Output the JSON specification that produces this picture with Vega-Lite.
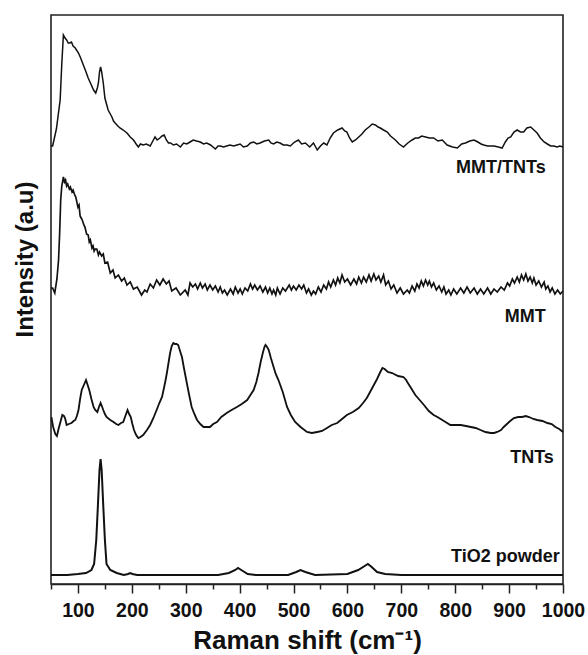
{
  "$schema": "https://vega.github.io/schema/vega-lite/v6.json",
  "width": 512,
  "height": 569,
  "autosize": "none",
  "padding": {"left": 51, "top": 15, "right": 25, "bottom": 71},
  "background": "white",
  "config": {"view": {"stroke": "#222", "strokeWidth": 1.6}, "font": "Liberation Sans", "axis": {"labelFontWeight": "bold", "labelFont": "Liberation Sans"}},
  "resolve": {"axis": {"x": "independent"}},
  "datasets": {
    "spectra": [
      {"series":"MMT/TNTs","x":50,"y":438},{"series":"MMT/TNTs","x":53,"y":438},{"series":"MMT/TNTs","x":60,"y":455},{"series":"MMT/TNTs","x":67,"y":484},{"series":"MMT/TNTs","x":70,"y":520},{"series":"MMT/TNTs","x":73,"y":549},{"series":"MMT/TNTs","x":76,"y":546},{"series":"MMT/TNTs","x":79,"y":544},{"series":"MMT/TNTs","x":82,"y":541},{"series":"MMT/TNTs","x":85,"y":541},{"series":"MMT/TNTs","x":88,"y":542},{"series":"MMT/TNTs","x":91,"y":538},{"series":"MMT/TNTs","x":95,"y":536},{"series":"MMT/TNTs","x":101,"y":531},{"series":"MMT/TNTs","x":105,"y":526},{"series":"MMT/TNTs","x":110,"y":519},{"series":"MMT/TNTs","x":115,"y":512},{"series":"MMT/TNTs","x":119,"y":506},{"series":"MMT/TNTs","x":124,"y":500},{"series":"MMT/TNTs","x":129,"y":494},{"series":"MMT/TNTs","x":133,"y":491},{"series":"MMT/TNTs","x":136,"y":496},{"series":"MMT/TNTs","x":138,"y":501},{"series":"MMT/TNTs","x":140,"y":512},{"series":"MMT/TNTs","x":142,"y":517},{"series":"MMT/TNTs","x":144,"y":512},{"series":"MMT/TNTs","x":147,"y":501},{"series":"MMT/TNTs","x":150,"y":486},{"series":"MMT/TNTs","x":153,"y":480},{"series":"MMT/TNTs","x":156,"y":474},{"series":"MMT/TNTs","x":160,"y":470},{"series":"MMT/TNTs","x":163,"y":467},{"series":"MMT/TNTs","x":166,"y":463},{"series":"MMT/TNTs","x":169,"y":461},{"series":"MMT/TNTs","x":174,"y":458},{"series":"MMT/TNTs","x":178,"y":456},{"series":"MMT/TNTs","x":184,"y":454},{"series":"MMT/TNTs","x":191,"y":451},{"series":"MMT/TNTs","x":197,"y":447},{"series":"MMT/TNTs","x":203,"y":444},{"series":"MMT/TNTs","x":208,"y":440},{"series":"MMT/TNTs","x":212,"y":437},{"series":"MMT/TNTs","x":216,"y":440},{"series":"MMT/TNTs","x":221,"y":439},{"series":"MMT/TNTs","x":227,"y":440},{"series":"MMT/TNTs","x":234,"y":438},{"series":"MMT/TNTs","x":239,"y":443},{"series":"MMT/TNTs","x":243,"y":447},{"series":"MMT/TNTs","x":247,"y":444},{"series":"MMT/TNTs","x":252,"y":446},{"series":"MMT/TNTs","x":256,"y":448},{"series":"MMT/TNTs","x":260,"y":449},{"series":"MMT/TNTs","x":264,"y":444},{"series":"MMT/TNTs","x":268,"y":441},{"series":"MMT/TNTs","x":272,"y":441},{"series":"MMT/TNTs","x":277,"y":439},{"series":"MMT/TNTs","x":283,"y":440},{"series":"MMT/TNTs","x":290,"y":437},{"series":"MMT/TNTs","x":296,"y":441},{"series":"MMT/TNTs","x":302,"y":440},{"series":"MMT/TNTs","x":308,"y":442},{"series":"MMT/TNTs","x":314,"y":444},{"series":"MMT/TNTs","x":320,"y":443},{"series":"MMT/TNTs","x":327,"y":442},{"series":"MMT/TNTs","x":333,"y":440},{"series":"MMT/TNTs","x":339,"y":441},{"series":"MMT/TNTs","x":346,"y":439},{"series":"MMT/TNTs","x":355,"y":435},{"series":"MMT/TNTs","x":360,"y":438},{"series":"MMT/TNTs","x":364,"y":438},{"series":"MMT/TNTs","x":370,"y":437},{"series":"MMT/TNTs","x":376,"y":438},{"series":"MMT/TNTs","x":382,"y":439},{"series":"MMT/TNTs","x":389,"y":438},{"series":"MMT/TNTs","x":395,"y":439},{"series":"MMT/TNTs","x":401,"y":440},{"series":"MMT/TNTs","x":407,"y":437},{"series":"MMT/TNTs","x":414,"y":438},{"series":"MMT/TNTs","x":420,"y":441},{"series":"MMT/TNTs","x":426,"y":442},{"series":"MMT/TNTs","x":432,"y":440},{"series":"MMT/TNTs","x":438,"y":441},{"series":"MMT/TNTs","x":446,"y":443},{"series":"MMT/TNTs","x":454,"y":444},{"series":"MMT/TNTs","x":458,"y":441},{"series":"MMT/TNTs","x":463,"y":440},{"series":"MMT/TNTs","x":469,"y":442},{"series":"MMT/TNTs","x":475,"y":441},{"series":"MMT/TNTs","x":481,"y":439},{"series":"MMT/TNTs","x":488,"y":439},{"series":"MMT/TNTs","x":494,"y":438},{"series":"MMT/TNTs","x":502,"y":442},{"series":"MMT/TNTs","x":509,"y":444},{"series":"MMT/TNTs","x":515,"y":440},{"series":"MMT/TNTs","x":522,"y":441},{"series":"MMT/TNTs","x":530,"y":437},{"series":"MMT/TNTs","x":537,"y":441},{"series":"MMT/TNTs","x":544,"y":434},{"series":"MMT/TNTs","x":550,"y":438},{"series":"MMT/TNTs","x":556,"y":441},{"series":"MMT/TNTs","x":562,"y":439},{"series":"MMT/TNTs","x":568,"y":446},{"series":"MMT/TNTs","x":574,"y":451},{"series":"MMT/TNTs","x":582,"y":454},{"series":"MMT/TNTs","x":590,"y":456},{"series":"MMT/TNTs","x":595,"y":453},{"series":"MMT/TNTs","x":599,"y":452},{"series":"MMT/TNTs","x":604,"y":446},{"series":"MMT/TNTs","x":609,"y":442},{"series":"MMT/TNTs","x":615,"y":444},{"series":"MMT/TNTs","x":621,"y":447},{"series":"MMT/TNTs","x":627,"y":450},{"series":"MMT/TNTs","x":633,"y":454},{"series":"MMT/TNTs","x":640,"y":457},{"series":"MMT/TNTs","x":646,"y":460},{"series":"MMT/TNTs","x":652,"y":459},{"series":"MMT/TNTs","x":657,"y":457},{"series":"MMT/TNTs","x":661,"y":456},{"series":"MMT/TNTs","x":667,"y":454},{"series":"MMT/TNTs","x":674,"y":452},{"series":"MMT/TNTs","x":680,"y":448},{"series":"MMT/TNTs","x":689,"y":444},{"series":"MMT/TNTs","x":696,"y":440},{"series":"MMT/TNTs","x":704,"y":437},{"series":"MMT/TNTs","x":712,"y":441},{"series":"MMT/TNTs","x":720,"y":444},{"series":"MMT/TNTs","x":726,"y":446},{"series":"MMT/TNTs","x":732,"y":446},{"series":"MMT/TNTs","x":738,"y":448},{"series":"MMT/TNTs","x":745,"y":447},{"series":"MMT/TNTs","x":752,"y":446},{"series":"MMT/TNTs","x":760,"y":446},{"series":"MMT/TNTs","x":768,"y":443},{"series":"MMT/TNTs","x":776,"y":444},{"series":"MMT/TNTs","x":785,"y":439},{"series":"MMT/TNTs","x":795,"y":437},{"series":"MMT/TNTs","x":804,"y":436},{"series":"MMT/TNTs","x":812,"y":440},{"series":"MMT/TNTs","x":819,"y":441},{"series":"MMT/TNTs","x":827,"y":443},{"series":"MMT/TNTs","x":835,"y":444},{"series":"MMT/TNTs","x":842,"y":442},{"series":"MMT/TNTs","x":848,"y":440},{"series":"MMT/TNTs","x":853,"y":439},{"series":"MMT/TNTs","x":860,"y":438},{"series":"MMT/TNTs","x":866,"y":438},{"series":"MMT/TNTs","x":872,"y":438},{"series":"MMT/TNTs","x":880,"y":437},{"series":"MMT/TNTs","x":887,"y":436},{"series":"MMT/TNTs","x":893,"y":442},{"series":"MMT/TNTs","x":898,"y":446},{"series":"MMT/TNTs","x":903,"y":447},{"series":"MMT/TNTs","x":909,"y":452},{"series":"MMT/TNTs","x":915,"y":454},{"series":"MMT/TNTs","x":921,"y":452},{"series":"MMT/TNTs","x":927,"y":452},{"series":"MMT/TNTs","x":933,"y":456},{"series":"MMT/TNTs","x":940,"y":457},{"series":"MMT/TNTs","x":946,"y":454},{"series":"MMT/TNTs","x":952,"y":451},{"series":"MMT/TNTs","x":958,"y":446},{"series":"MMT/TNTs","x":965,"y":442},{"series":"MMT/TNTs","x":971,"y":440},{"series":"MMT/TNTs","x":977,"y":438},{"series":"MMT/TNTs","x":983,"y":438},{"series":"MMT/TNTs","x":989,"y":437},{"series":"MMT/TNTs","x":994,"y":438},{"series":"MMT/TNTs","x":1000,"y":437},

      {"series":"MMT","x":50,"y":296},{"series":"MMT","x":53,"y":296},{"series":"MMT","x":57,"y":291},{"series":"MMT","x":61,"y":305},{"series":"MMT","x":64,"y":324},{"series":"MMT","x":66,"y":350},{"series":"MMT","x":68,"y":384},{"series":"MMT","x":70,"y":398},{"series":"MMT","x":73,"y":407},{"series":"MMT","x":75,"y":402},{"series":"MMT","x":77,"y":404},{"series":"MMT","x":79,"y":398},{"series":"MMT","x":81,"y":400},{"series":"MMT","x":84,"y":395},{"series":"MMT","x":86,"y":397},{"series":"MMT","x":89,"y":392},{"series":"MMT","x":91,"y":394},{"series":"MMT","x":94,"y":389},{"series":"MMT","x":96,"y":387},{"series":"MMT","x":100,"y":377},{"series":"MMT","x":102,"y":379},{"series":"MMT","x":104,"y":368},{"series":"MMT","x":106,"y":366},{"series":"MMT","x":108,"y":364},{"series":"MMT","x":111,"y":359},{"series":"MMT","x":113,"y":357},{"series":"MMT","x":116,"y":350},{"series":"MMT","x":119,"y":349},{"series":"MMT","x":121,"y":342},{"series":"MMT","x":123,"y":344},{"series":"MMT","x":126,"y":336},{"series":"MMT","x":128,"y":338},{"series":"MMT","x":130,"y":333},{"series":"MMT","x":132,"y":335},{"series":"MMT","x":135,"y":335},{"series":"MMT","x":138,"y":329},{"series":"MMT","x":140,"y":332},{"series":"MMT","x":144,"y":328},{"series":"MMT","x":147,"y":330},{"series":"MMT","x":150,"y":321},{"series":"MMT","x":155,"y":322},{"series":"MMT","x":160,"y":311},{"series":"MMT","x":165,"y":314},{"series":"MMT","x":169,"y":306},{"series":"MMT","x":175,"y":309},{"series":"MMT","x":181,"y":303},{"series":"MMT","x":186,"y":306},{"series":"MMT","x":191,"y":299},{"series":"MMT","x":197,"y":302},{"series":"MMT","x":203,"y":295},{"series":"MMT","x":210,"y":297},{"series":"MMT","x":218,"y":289},{"series":"MMT","x":224,"y":294},{"series":"MMT","x":228,"y":292},{"series":"MMT","x":234,"y":300},{"series":"MMT","x":240,"y":296},{"series":"MMT","x":246,"y":304},{"series":"MMT","x":252,"y":299},{"series":"MMT","x":258,"y":305},{"series":"MMT","x":264,"y":300},{"series":"MMT","x":269,"y":303},{"series":"MMT","x":274,"y":293},{"series":"MMT","x":282,"y":296},{"series":"MMT","x":290,"y":289},{"series":"MMT","x":299,"y":294},{"series":"MMT","x":304,"y":289},{"series":"MMT","x":308,"y":301},{"series":"MMT","x":313,"y":297},{"series":"MMT","x":318,"y":300},{"series":"MMT","x":322,"y":295},{"series":"MMT","x":327,"y":301},{"series":"MMT","x":331,"y":296},{"series":"MMT","x":336,"y":300},{"series":"MMT","x":340,"y":294},{"series":"MMT","x":345,"y":299},{"series":"MMT","x":350,"y":294},{"series":"MMT","x":355,"y":298},{"series":"MMT","x":360,"y":292},{"series":"MMT","x":364,"y":297},{"series":"MMT","x":368,"y":291},{"series":"MMT","x":372,"y":294},{"series":"MMT","x":377,"y":289},{"series":"MMT","x":383,"y":295},{"series":"MMT","x":388,"y":290},{"series":"MMT","x":392,"y":297},{"series":"MMT","x":397,"y":291},{"series":"MMT","x":401,"y":295},{"series":"MMT","x":405,"y":290},{"series":"MMT","x":410,"y":296},{"series":"MMT","x":415,"y":293},{"series":"MMT","x":420,"y":300},{"series":"MMT","x":424,"y":295},{"series":"MMT","x":428,"y":299},{"series":"MMT","x":433,"y":294},{"series":"MMT","x":438,"y":298},{"series":"MMT","x":443,"y":292},{"series":"MMT","x":448,"y":297},{"series":"MMT","x":452,"y":291},{"series":"MMT","x":456,"y":296},{"series":"MMT","x":460,"y":290},{"series":"MMT","x":463,"y":294},{"series":"MMT","x":467,"y":289},{"series":"MMT","x":470,"y":296},{"series":"MMT","x":475,"y":290},{"series":"MMT","x":480,"y":296},{"series":"MMT","x":485,"y":293},{"series":"MMT","x":492,"y":299},{"series":"MMT","x":496,"y":294},{"series":"MMT","x":500,"y":298},{"series":"MMT","x":505,"y":294},{"series":"MMT","x":510,"y":299},{"series":"MMT","x":515,"y":295},{"series":"MMT","x":519,"y":299},{"series":"MMT","x":524,"y":291},{"series":"MMT","x":528,"y":295},{"series":"MMT","x":533,"y":289},{"series":"MMT","x":537,"y":293},{"series":"MMT","x":541,"y":290},{"series":"MMT","x":546,"y":297},{"series":"MMT","x":551,"y":292},{"series":"MMT","x":556,"y":299},{"series":"MMT","x":561,"y":295},{"series":"MMT","x":565,"y":302},{"series":"MMT","x":569,"y":297},{"series":"MMT","x":574,"y":304},{"series":"MMT","x":578,"y":299},{"series":"MMT","x":582,"y":306},{"series":"MMT","x":586,"y":301},{"series":"MMT","x":590,"y":309},{"series":"MMT","x":595,"y":302},{"series":"MMT","x":600,"y":305},{"series":"MMT","x":606,"y":299},{"series":"MMT","x":612,"y":305},{"series":"MMT","x":617,"y":300},{"series":"MMT","x":621,"y":307},{"series":"MMT","x":626,"y":301},{"series":"MMT","x":630,"y":307},{"series":"MMT","x":635,"y":302},{"series":"MMT","x":640,"y":309},{"series":"MMT","x":644,"y":303},{"series":"MMT","x":649,"y":310},{"series":"MMT","x":653,"y":304},{"series":"MMT","x":658,"y":308},{"series":"MMT","x":662,"y":302},{"series":"MMT","x":667,"y":309},{"series":"MMT","x":671,"y":299},{"series":"MMT","x":676,"y":303},{"series":"MMT","x":681,"y":295},{"series":"MMT","x":686,"y":299},{"series":"MMT","x":692,"y":291},{"series":"MMT","x":698,"y":296},{"series":"MMT","x":704,"y":290},{"series":"MMT","x":711,"y":294},{"series":"MMT","x":715,"y":291},{"series":"MMT","x":720,"y":298},{"series":"MMT","x":725,"y":293},{"series":"MMT","x":729,"y":300},{"series":"MMT","x":733,"y":296},{"series":"MMT","x":737,"y":303},{"series":"MMT","x":741,"y":298},{"series":"MMT","x":745,"y":304},{"series":"MMT","x":749,"y":299},{"series":"MMT","x":752,"y":303},{"series":"MMT","x":756,"y":297},{"series":"MMT","x":760,"y":301},{"series":"MMT","x":765,"y":294},{"series":"MMT","x":770,"y":298},{"series":"MMT","x":775,"y":292},{"series":"MMT","x":779,"y":297},{"series":"MMT","x":783,"y":290},{"series":"MMT","x":788,"y":294},{"series":"MMT","x":792,"y":289},{"series":"MMT","x":797,"y":295},{"series":"MMT","x":803,"y":290},{"series":"MMT","x":810,"y":296},{"series":"MMT","x":816,"y":291},{"series":"MMT","x":822,"y":297},{"series":"MMT","x":828,"y":291},{"series":"MMT","x":835,"y":296},{"series":"MMT","x":841,"y":290},{"series":"MMT","x":847,"y":295},{"series":"MMT","x":853,"y":290},{"series":"MMT","x":860,"y":296},{"series":"MMT","x":866,"y":290},{"series":"MMT","x":872,"y":295},{"series":"MMT","x":878,"y":292},{"series":"MMT","x":885,"y":297},{"series":"MMT","x":891,"y":294},{"series":"MMT","x":897,"y":301},{"series":"MMT","x":901,"y":298},{"series":"MMT","x":906,"y":305},{"series":"MMT","x":910,"y":301},{"series":"MMT","x":915,"y":307},{"series":"MMT","x":919,"y":302},{"series":"MMT","x":923,"y":309},{"series":"MMT","x":927,"y":304},{"series":"MMT","x":931,"y":310},{"series":"MMT","x":935,"y":303},{"series":"MMT","x":939,"y":307},{"series":"MMT","x":943,"y":301},{"series":"MMT","x":946,"y":306},{"series":"MMT","x":950,"y":299},{"series":"MMT","x":955,"y":303},{"series":"MMT","x":960,"y":297},{"series":"MMT","x":965,"y":302},{"series":"MMT","x":968,"y":295},{"series":"MMT","x":972,"y":298},{"series":"MMT","x":976,"y":292},{"series":"MMT","x":980,"y":296},{"series":"MMT","x":985,"y":290},{"series":"MMT","x":990,"y":294},{"series":"MMT","x":995,"y":290},{"series":"MMT","x":1000,"y":293},

      {"series":"TNTs","x":50,"y":166},{"series":"TNTs","x":51,"y":166},{"series":"TNTs","x":54,"y":157},{"series":"TNTs","x":58,"y":150},{"series":"TNTs","x":61,"y":148},{"series":"TNTs","x":64,"y":155},{"series":"TNTs","x":67,"y":161},{"series":"TNTs","x":71,"y":169},{"series":"TNTs","x":74,"y":168},{"series":"TNTs","x":76,"y":166},{"series":"TNTs","x":79,"y":159},{"series":"TNTs","x":83,"y":160},{"series":"TNTs","x":88,"y":161},{"series":"TNTs","x":92,"y":163},{"series":"TNTs","x":95,"y":164},{"series":"TNTs","x":98,"y":168},{"series":"TNTs","x":101,"y":174},{"series":"TNTs","x":104,"y":185},{"series":"TNTs","x":107,"y":194},{"series":"TNTs","x":111,"y":199},{"series":"TNTs","x":115,"y":204},{"series":"TNTs","x":118,"y":199},{"series":"TNTs","x":121,"y":194},{"series":"TNTs","x":125,"y":185},{"series":"TNTs","x":129,"y":177},{"series":"TNTs","x":132,"y":174},{"series":"TNTs","x":136,"y":172},{"series":"TNTs","x":139,"y":177},{"series":"TNTs","x":142,"y":181},{"series":"TNTs","x":145,"y":177},{"series":"TNTs","x":147,"y":174},{"series":"TNTs","x":150,"y":170},{"series":"TNTs","x":153,"y":167},{"series":"TNTs","x":160,"y":164},{"series":"TNTs","x":166,"y":162},{"series":"TNTs","x":171,"y":160},{"series":"TNTs","x":175,"y":159},{"series":"TNTs","x":180,"y":161},{"series":"TNTs","x":184,"y":162},{"series":"TNTs","x":188,"y":168},{"series":"TNTs","x":192,"y":174},{"series":"TNTs","x":195,"y":170},{"series":"TNTs","x":198,"y":167},{"series":"TNTs","x":201,"y":160},{"series":"TNTs","x":204,"y":154},{"series":"TNTs","x":208,"y":149},{"series":"TNTs","x":212,"y":146},{"series":"TNTs","x":216,"y":147},{"series":"TNTs","x":221,"y":149},{"series":"TNTs","x":228,"y":154},{"series":"TNTs","x":234,"y":159},{"series":"TNTs","x":240,"y":166},{"series":"TNTs","x":246,"y":174},{"series":"TNTs","x":251,"y":181},{"series":"TNTs","x":256,"y":187},{"series":"TNTs","x":260,"y":197},{"series":"TNTs","x":263,"y":205},{"series":"TNTs","x":265,"y":211},{"series":"TNTs","x":268,"y":221},{"series":"TNTs","x":271,"y":231},{"series":"TNTs","x":274,"y":238},{"series":"TNTs","x":277,"y":241},{"series":"TNTs","x":280,"y":240},{"series":"TNTs","x":283,"y":240},{"series":"TNTs","x":286,"y":239},{"series":"TNTs","x":290,"y":232},{"series":"TNTs","x":293,"y":227},{"series":"TNTs","x":297,"y":215},{"series":"TNTs","x":302,"y":201},{"series":"TNTs","x":306,"y":190},{"series":"TNTs","x":311,"y":177},{"series":"TNTs","x":316,"y":170},{"series":"TNTs","x":321,"y":164},{"series":"TNTs","x":327,"y":160},{"series":"TNTs","x":333,"y":157},{"series":"TNTs","x":339,"y":157},{"series":"TNTs","x":345,"y":157},{"series":"TNTs","x":351,"y":160},{"series":"TNTs","x":358,"y":162},{"series":"TNTs","x":366,"y":167},{"series":"TNTs","x":376,"y":171},{"series":"TNTs","x":385,"y":174},{"series":"TNTs","x":395,"y":177},{"series":"TNTs","x":404,"y":180},{"series":"TNTs","x":414,"y":184},{"series":"TNTs","x":420,"y":189},{"series":"TNTs","x":426,"y":194},{"series":"TNTs","x":431,"y":202},{"series":"TNTs","x":435,"y":211},{"series":"TNTs","x":439,"y":222},{"series":"TNTs","x":443,"y":231},{"series":"TNTs","x":446,"y":237},{"series":"TNTs","x":448,"y":239},{"series":"TNTs","x":451,"y":237},{"series":"TNTs","x":454,"y":234},{"series":"TNTs","x":458,"y":226},{"series":"TNTs","x":463,"y":217},{"series":"TNTs","x":467,"y":210},{"series":"TNTs","x":472,"y":204},{"series":"TNTs","x":480,"y":192},{"series":"TNTs","x":488,"y":177},{"series":"TNTs","x":495,"y":169},{"series":"TNTs","x":503,"y":162},{"series":"TNTs","x":513,"y":157},{"series":"TNTs","x":525,"y":152},{"series":"TNTs","x":534,"y":151},{"series":"TNTs","x":544,"y":152},{"series":"TNTs","x":553,"y":153},{"series":"TNTs","x":562,"y":156},{"series":"TNTs","x":571,"y":159},{"series":"TNTs","x":581,"y":161},{"series":"TNTs","x":590,"y":165},{"series":"TNTs","x":599,"y":169},{"series":"TNTs","x":610,"y":172},{"series":"TNTs","x":621,"y":176},{"series":"TNTs","x":629,"y":181},{"series":"TNTs","x":636,"y":186},{"series":"TNTs","x":643,"y":193},{"series":"TNTs","x":649,"y":199},{"series":"TNTs","x":655,"y":205},{"series":"TNTs","x":661,"y":212},{"series":"TNTs","x":665,"y":216},{"series":"TNTs","x":669,"y":215},{"series":"TNTs","x":675,"y":212},{"series":"TNTs","x":683,"y":211},{"series":"TNTs","x":694,"y":208},{"series":"TNTs","x":704,"y":207},{"series":"TNTs","x":709,"y":204},{"series":"TNTs","x":711,"y":202},{"series":"TNTs","x":718,"y":196},{"series":"TNTs","x":726,"y":189},{"series":"TNTs","x":734,"y":184},{"series":"TNTs","x":742,"y":179},{"series":"TNTs","x":751,"y":173},{"series":"TNTs","x":760,"y":169},{"series":"TNTs","x":767,"y":167},{"series":"TNTs","x":773,"y":165},{"series":"TNTs","x":782,"y":162},{"series":"TNTs","x":791,"y":159},{"series":"TNTs","x":800,"y":159},{"series":"TNTs","x":810,"y":159},{"series":"TNTs","x":820,"y":158},{"series":"TNTs","x":829,"y":157},{"series":"TNTs","x":838,"y":156},{"series":"TNTs","x":847,"y":154},{"series":"TNTs","x":856,"y":152},{"series":"TNTs","x":866,"y":151},{"series":"TNTs","x":872,"y":151},{"series":"TNTs","x":878,"y":152},{"series":"TNTs","x":885,"y":154},{"series":"TNTs","x":890,"y":157},{"series":"TNTs","x":896,"y":160},{"series":"TNTs","x":902,"y":163},{"series":"TNTs","x":909,"y":166},{"series":"TNTs","x":917,"y":167},{"series":"TNTs","x":924,"y":167},{"series":"TNTs","x":931,"y":168},{"series":"TNTs","x":937,"y":167},{"series":"TNTs","x":945,"y":165},{"series":"TNTs","x":952,"y":164},{"series":"TNTs","x":962,"y":163},{"series":"TNTs","x":971,"y":161},{"series":"TNTs","x":979,"y":160},{"series":"TNTs","x":986,"y":157},{"series":"TNTs","x":993,"y":155},{"series":"TNTs","x":1000,"y":152},

      {"series":"TiO2","x":50,"y":9},{"series":"TiO2","x":80,"y":9},{"series":"TiO2","x":100,"y":10},{"series":"TiO2","x":115,"y":11},{"series":"TiO2","x":125,"y":14},{"series":"TiO2","x":130,"y":20},{"series":"TiO2","x":134,"y":44},{"series":"TiO2","x":137,"y":78},{"series":"TiO2","x":140,"y":114},{"series":"TiO2","x":142,"y":125},{"series":"TiO2","x":144,"y":114},{"series":"TiO2","x":147,"y":78},{"series":"TiO2","x":150,"y":44},{"series":"TiO2","x":153,"y":20},{"series":"TiO2","x":160,"y":14},{"series":"TiO2","x":172,"y":11},{"series":"TiO2","x":185,"y":9},{"series":"TiO2","x":193,"y":10},{"series":"TiO2","x":197,"y":11},{"series":"TiO2","x":201,"y":10},{"series":"TiO2","x":210,"y":9},{"series":"TiO2","x":300,"y":9},{"series":"TiO2","x":360,"y":9},{"series":"TiO2","x":380,"y":11},{"series":"TiO2","x":392,"y":14},{"series":"TiO2","x":397,"y":16},{"series":"TiO2","x":403,"y":14},{"series":"TiO2","x":415,"y":10},{"series":"TiO2","x":430,"y":9},{"series":"TiO2","x":490,"y":9},{"series":"TiO2","x":505,"y":12},{"series":"TiO2","x":513,"y":14},{"series":"TiO2","x":522,"y":12},{"series":"TiO2","x":540,"y":9},{"series":"TiO2","x":600,"y":10},{"series":"TiO2","x":620,"y":14},{"series":"TiO2","x":632,"y":18},{"series":"TiO2","x":638,"y":20},{"series":"TiO2","x":645,"y":17},{"series":"TiO2","x":655,"y":12},{"series":"TiO2","x":670,"y":10},{"series":"TiO2","x":700,"y":9},{"series":"TiO2","x":1000,"y":9}
    ],
    "labels": [
      {"label":"MMT/TNTs","x":968,"y":416},
      {"label":"MMT","x":968,"y":267},
      {"label":"TNTs","x":983,"y":126},
      {"label":"TiO2 powder","x":994,"y":27}
    ]
  },
  "layer": [
    {
      "data": {"name": "spectra"},
      "mark": {"type": "line", "color": "#111"},
      "encoding": {
        "x": {
          "field": "x", "type": "quantitative",
          "scale": {"domain": [50, 1000], "nice": false},
          "axis": {
            "orient": "bottom",
            "title": "Raman shift (cm⁻¹)",
            "values": [100,200,300,400,500,600,700,800,900,1000],
            "format": "d",
            "tickSize": 9,
            "grid": false,
            "domainColor": "#222", "domainWidth": 1.6,
            "tickColor": "#222", "tickWidth": 1.5,
            "labelFont": "Liberation Sans", "labelFontSize": 19.5, "labelFontWeight": "bold", "labelColor": "#111",
            "labelPadding": 8, "labelFlush": false, "labelOverlap": false,
            "titleFont": "Liberation Sans", "titleFontSize": 26, "titleFontWeight": "bold", "titleColor": "#111",
            "titlePadding": 8
          }
        },
        "y": {
          "field": "y", "type": "quantitative",
          "scale": {"domain": [0, 569], "nice": false},
          "axis": {
            "title": "Intensity (a.u)",
            "labels": false, "ticks": false, "domain": false, "grid": false,
            "titleFont": "Liberation Sans", "titleFontSize": 24, "titleFontWeight": "bold", "titleColor": "#111",
            "titlePadding": 14, "titleY": 244
          }
        },
        "detail": {"field": "series"},
        "strokeWidth": {"field": "series", "type": "nominal", "scale": {"domain": ["MMT/TNTs", "MMT", "TNTs", "TiO2"], "range": [1.5, 2, 1.6, 1.4]}, "legend": null}
      }
    },
    {
      "data": {"name": "labels"},
      "mark": {"type": "text", "align": "right", "baseline": "middle", "font": "Liberation Sans", "fontSize": 18, "fontWeight": "bold", "color": "#111"},
      "encoding": {
        "x": {
          "field": "x", "type": "quantitative",
          "axis": {
            "orient": "bottom",
            "title": null,
            "values": [50,150,250,350,450,550,650,750,850,950],
            "labels": false, "domain": false, "grid": false,
            "tickSize": 5, "tickColor": "#222", "tickWidth": 1.5
          }
        },
        "y": {"field": "y", "type": "quantitative"},
        "text": {"field": "label"}
      }
    }
  ]
}
